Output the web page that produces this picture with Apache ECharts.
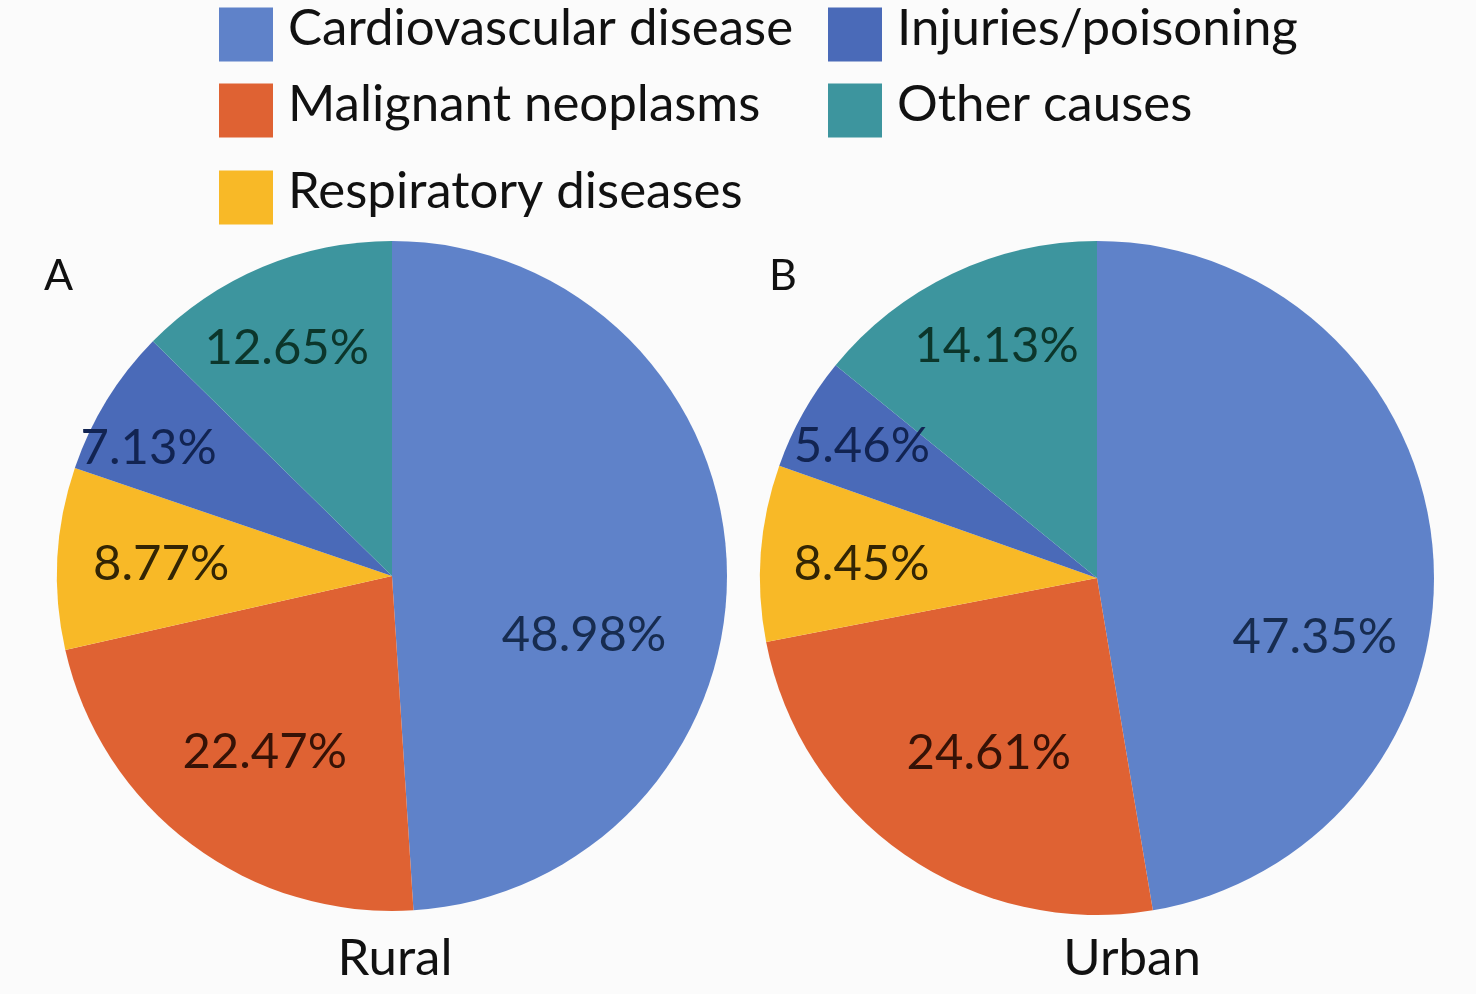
<!DOCTYPE html>
<html>
<head>
<meta charset="utf-8">
<title>Causes of death, rural vs urban</title>
<script src="https://cdn.jsdelivr.net/npm/echarts@6/dist/echarts.min.js"></script>
<style>
html,body{margin:0;padding:0;background:#fbfbfb;}
#main{width:1476px;height:994px;}
</style>
</head>
<body>
<div id="main"></div>
<script>
// categories (clockwise from 12 o'clock)
var causes = ['Cardiovascular disease', 'Malignant neoplasms', 'Respiratory diseases', 'Injuries/poisoning', 'Other causes'];
var ruralPct = [48.98, 22.47, 8.77, 7.13, 12.65];
var urbanPct = [47.35, 24.61, 8.45, 5.46, 14.13];

var sliceColors = ['#5f82c9', '#df6233', '#f8b927', '#4a6ab8', '#3d959e'];
var labelColors = ['#172c50', '#361206', '#332504', '#122452', '#0c362b'];

// label placement like the original (fraction of radius, angle nudge in degrees)
var ruralLabelR = [0.60, 0.65, 0.69, 0.82, 0.75];
var ruralLabelNudge = [19, -1, 0, -4, -2];
var urbanLabelR = [0.67, 0.61, 0.70, 0.80, 0.75];
var urbanLabelNudge = [20, -3, -1, 0, 2];

var FONT = 'Lato';

function makeLabelLayout(values, cx, cy, r, fr, nudge){
	var total = 0;
	for (var i = 0; i < values.length; i++) total += values[i];
	return function(p){
		var acc = 0;
		for (var j = 0; j < p.dataIndex; j++) acc += values[j];
		var mid = (acc + values[p.dataIndex] / 2) / total * 360 + nudge[p.dataIndex];
		var a = mid * Math.PI / 180;
		var d = fr[p.dataIndex] * r;
		return {
			x: cx + d * Math.sin(a),
			y: cy - d * Math.cos(a),
			align: 'center',
			verticalAlign: 'middle'
		};
	};
}

function pieSeries(name, values, cx, cy, r, fr, nudge){
	var data = new Array();
	for (var i = 0; i < causes.length; i++) {
		data[i] = {
			name: causes[i],
			value: values[i],
			itemStyle: {color: sliceColors[i]},
			label: {color: labelColors[i]}
		};
	}
	return {
		name: name,
		type: 'pie',
		center: [cx, cy],
		radius: r,
		startAngle: 90,
		clockwise: true,
		avoidLabelOverlap: false,
		silent: true,
		animation: false,
		itemStyle: {borderWidth: 0},
		label: {
			show: true,
			position: 'inside',
			fontFamily: FONT,
			fontSize: 49,
			formatter: function(p){ return p.value.toFixed(2) + '%'; }
		},
		labelLine: {show: false},
		labelLayout: makeLabelLayout(values, cx, cy, r, fr, nudge),
		data: data
	};
}

function legendAt(name, left, top){
	return {
		data: [name],
		left: left,
		top: top,
		icon: 'rect',
		itemWidth: 54,
		itemHeight: 54,
		itemGap: 0,
		selectedMode: false,
		formatter: '{t|{name}}',
		textStyle: {
			rich: {
				t: {fontFamily: FONT, fontSize: 51, color: '#111', padding: [0, 0, 12, 10]}
			}
		}
	};
}

var myChart = echarts.init(document.getElementById('main'));
var option = {
	backgroundColor: '#fbfbfb',
	title: [
		{text: 'A', left: 39, top: 250, textStyle: {fontFamily: FONT, fontSize: 43, fontWeight: 'normal', color: '#111'}},
		{text: 'B', left: 764, top: 250, textStyle: {fontFamily: FONT, fontSize: 43, fontWeight: 'normal', color: '#111'}},
		{text: 'Rural', left: 390, top: 928, textAlign: 'center', textStyle: {fontFamily: FONT, fontSize: 51, fontWeight: 'normal', color: '#111'}},
		{text: 'Urban', left: 1127, top: 928, textAlign: 'center', textStyle: {fontFamily: FONT, fontSize: 51, fontWeight: 'normal', color: '#111'}}
	],
	legend: [
		legendAt(causes[0], 214, -2),
		legendAt(causes[1], 214, 74),
		legendAt(causes[2], 214, 161),
		legendAt(causes[3], 823, -2),
		legendAt(causes[4], 823, 74)
	],
	series: [
		pieSeries('Rural', ruralPct, 392, 576, 335, ruralLabelR, ruralLabelNudge),
		pieSeries('Urban', urbanPct, 1097, 578, 337, urbanLabelR, urbanLabelNudge)
	]
};
myChart.setOption(option);
</script>
</body>
</html>
